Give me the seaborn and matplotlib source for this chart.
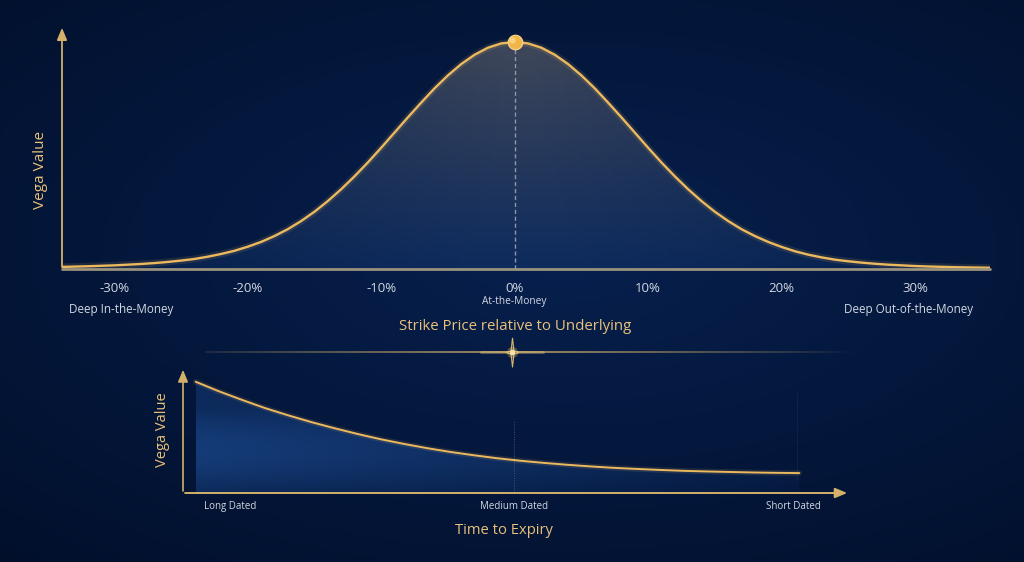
import numpy as np
import pandas as pd
import matplotlib
matplotlib.use("Agg")
import matplotlib.pyplot as plt
import seaborn as sns
from matplotlib.patches import PathPatch
from matplotlib.path import Path
from matplotlib.collections import LineCollection

# ===============================
# DATA
# ===============================
strike_pct = list(range(-35, 37))
strike_vega = [
    0.008, 0.009, 0.0105, 0.012, 0.014, 0.016, 0.019, 0.022, 0.026, 0.031,
    0.037, 0.044, 0.054, 0.066, 0.080, 0.098, 0.119, 0.145, 0.175, 0.211,
    0.252, 0.299, 0.351, 0.408, 0.469, 0.534, 0.601, 0.668, 0.733, 0.796,
    0.853, 0.903, 0.944, 0.975, 0.994, 1.000,
    0.994, 0.975, 0.944, 0.903, 0.853, 0.796, 0.733, 0.668, 0.601, 0.534,
    0.469, 0.408, 0.351, 0.299, 0.252, 0.211, 0.175, 0.145, 0.119, 0.097,
    0.078, 0.063, 0.051, 0.041, 0.034, 0.028, 0.023, 0.019, 0.016, 0.013,
    0.011, 0.0095, 0.008, 0.007, 0.006, 0.005,
]
strike_ticks = [-30, -20, -10, 0, 10, 20, 30]
strike_tick_labels = ["-30%", "-20%", "-10%", "0%", "10%", "20%", "30%"]
money_labels = ["Deep In-the-Money", "At-the-Money", "Deep Out-of-the-Money"]
money_pos = [-29.5, 0, 29.5]

expiry_x = [1.9, 5.4, 8.9, 12.3, 15.8, 19.3, 22.8, 26.3, 29.7, 33.2, 36.7,
            40.2, 43.7, 47.1, 50.6, 54.1, 57.6, 61.1, 64.5, 68.0, 71.5, 75.0,
            78.5, 81.9, 85.4, 88.9, 92.4]
expiry_vega = [0.883, 0.807, 0.738, 0.674, 0.616, 0.562, 0.513, 0.467, 0.426,
               0.389, 0.355, 0.325, 0.299, 0.276, 0.256, 0.239, 0.224, 0.211,
               0.200, 0.191, 0.183, 0.176, 0.171, 0.167, 0.163, 0.160, 0.158]
expiry_labels = ["Long Dated", "Medium Dated", "Short Dated"]
expiry_pos = [7.0, 49.6, 91.5]

# ===============================
# STYLE
# ===============================
sns.set_theme(style="dark")
plt.rcParams["font.family"] = ["Open Sans", "DejaVu Sans"]

GOLD = "#ecb95e"
GOLD_TXT = "#e9c27a"
GREY_TXT = "#d3d8e2"
BG = "#03163a"

fig = plt.figure(figsize=(10.24, 5.62), dpi=100, facecolor=BG)

# background glow
bg = fig.add_axes([0, 0, 1, 1], zorder=-5)
gx, gy = np.meshgrid(np.linspace(0, 1, 300), np.linspace(0, 1, 170))
r = np.sqrt(((gx - 0.55) / 0.9) ** 2 + ((gy - 0.55) / 0.8) ** 2)
c0 = np.array([7, 32, 78]) / 255
c1 = np.array([1, 14, 40]) / 255
t = np.clip(r, 0, 1)[..., None]
bg.imshow(c0 * (1 - t) + c1 * t, extent=[0, 1, 0, 1], aspect="auto", origin="lower")
bg.set_axis_off()


def gradient_fill(ax, x, y, rgba):
    poly = ax.fill_between(x, y, 0, color="none", lw=0)
    patch = PathPatch(poly.get_paths()[0], facecolor="none", edgecolor="none",
                      transform=ax.transData)
    ax.add_patch(patch)
    im = ax.imshow(rgba, extent=[min(x), max(x), 0, max(y)], aspect="auto",
                   origin="lower", zorder=1)
    im.set_clip_path(patch)


# ===============================
# TOP CHART: VEGA VS STRIKE
# ===============================
ax1 = fig.add_axes([62 / 1024, 1 - 269 / 562, 928 / 1024, 244 / 562])
ax1.set_facecolor("none")
XMIN, XMAX = -33.9, 35.6
ax1.set_xlim(XMIN, XMAX)
ax1.set_ylim(0, 1.075)

h, w = 200, 300
yy = np.linspace(0, 1, h)[:, None]
xx = np.linspace(-1, 1, w)[None, :]
top_c = np.array([64, 72, 90]) / 255
bot_c = np.array([14, 44, 95]) / 255
rgba = np.zeros((h, w, 4))
rgba[..., :3] = (bot_c * (1 - yy[..., None]) + top_c * yy[..., None])
rgba[..., 3] = 1 - 0.75 * np.abs(xx) ** 1.2 * np.ones_like(yy)
gradient_fill(ax1, strike_pct, strike_vega, rgba)

df_top = pd.DataFrame({"strike": strike_pct, "vega": strike_vega})
sns.lineplot(data=df_top, x="strike", y="vega", ax=ax1, color=GOLD, lw=5, alpha=0.12, zorder=3)
sns.lineplot(data=df_top, x="strike", y="vega", ax=ax1, color=GOLD, lw=1.7, zorder=4)

ax1.plot([0, 0], [0, max(strike_vega)], color="#8e96a8", lw=1, ls=(0, (3, 2)), zorder=3)
ax1.scatter([0], [max(strike_vega)], s=110, color="#f1b64a", edgecolor="#ffd88c",
            lw=0.8, zorder=6, clip_on=False)
ax1.scatter([-0.2], [max(strike_vega) + 0.008], s=20, color="#ffe2a0", alpha=0.6,
            lw=0, zorder=7, clip_on=False)

for s in ["top", "right", "left", "bottom"]:
    ax1.spines[s].set_visible(False)
ax1.plot([XMIN, XMAX], [0, 0], color="#9a927c", lw=2, zorder=5, clip_on=False)
ax1.annotate("", xy=(XMIN, 1.075), xytext=(XMIN, -0.003),
             arrowprops=dict(arrowstyle="-|>,head_length=0.6,head_width=0.25",
                             color="#d4b06a", lw=1.3), annotation_clip=False)

ax1.set_xticks(strike_ticks)
ax1.set_xticklabels(strike_tick_labels)
ax1.set_yticks([])
ax1.tick_params(axis="x", length=0, pad=9, labelsize=9.5, labelcolor=GREY_TXT)
ax1.set_xlabel("")
ax1.set_ylabel("")
ax1.grid(False)

xt = ax1.get_xaxis_transform()
for lab, pos in zip(money_labels, money_pos):
    ax1.text(pos, -0.135 if lab == "At-the-Money" else -0.168, lab,
             transform=xt, ha="center", va="center", color=GREY_TXT,
             fontsize=7.3 if lab == "At-the-Money" else 8.4)
ax1.text(0, -0.234, "Strike Price relative to Underlying", transform=xt,
         ha="center", va="center", color=GOLD_TXT, fontsize=10.8)
ax1.text(-0.0237, 0.406, "Vega Value", transform=ax1.transAxes, rotation=90,
         ha="center", va="center", color=GOLD_TXT, fontsize=11)

# ===============================
# DIVIDER WITH SPARKLE
# ===============================
dx = np.linspace(205, 860, 200) / 1024
dy = np.full_like(dx, 1 - 352 / 562)
seg = np.stack([np.column_stack([dx[:-1], dy[:-1]]), np.column_stack([dx[1:], dy[1:]])], axis=1)
mid = (dx[:-1] + dx[1:]) / 2
alpha = np.clip(1 - np.abs(mid - 512 / 1024) / 0.33, 0, 1) ** 0.8
cols = np.zeros((len(mid), 4))
cols[:, :3] = matplotlib.colors.to_rgb("#d9b46a")
cols[:, 3] = alpha * 0.85
bg.add_collection(LineCollection(seg, colors=cols, lw=1.2, transform=bg.transAxes))

star = Path([(0, 1), (0.1, 0.1), (0.45, 0), (0.1, -0.1), (0, -1),
             (-0.1, -0.1), (-0.45, 0), (-0.1, 0.1), (0, 1)])
sx, sy = 512 / 1024, 1 - 352 / 562
bg.plot([sx - 0.03, sx + 0.03], [sy, sy], color="#f5cf80", lw=2.2, alpha=0.35,
        solid_capstyle="round", transform=bg.transAxes)
bg.plot([sx], [sy], marker=star, ms=21, color="#26365a", mec="#d9b46a", mew=0.8,
        transform=bg.transAxes)
bg.plot([sx], [sy], "o", ms=8, color="#ffd070", alpha=0.3, mew=0, transform=bg.transAxes)
bg.plot([sx], [sy], "o", ms=4, color="#ffe8b0", alpha=0.95, mew=0, transform=bg.transAxes)
bg.set_xlim(0, 1)
bg.set_ylim(0, 1)

# ===============================
# BOTTOM CHART: VEGA VS TIME
# ===============================
ax2 = fig.add_axes([183 / 1024, 1 - 493 / 562, 667 / 1024, 126 / 562])
ax2.set_facecolor("none")
ax2.set_xlim(0, 100)
ax2.set_ylim(0, 1)

h2, w2 = 120, 300
yy2 = np.linspace(0, 1, h2)[:, None]
xx2 = np.linspace(0, 1, w2)[None, :]
rgba2 = np.zeros((h2, w2, 4))
rgba2[..., :3] = np.array([22, 62, 124]) / 255
rgba2[..., 3] = (0.95 - 0.75 * xx2) * (0.55 + 0.45 * np.sin(np.pi * np.clip(yy2 * 1.3, 0, 1)))
gradient_fill(ax2, expiry_x, expiry_vega, rgba2)

df_bot = pd.DataFrame({"t": expiry_x, "vega": expiry_vega})
sns.lineplot(data=df_bot, x="t", y="vega", ax=ax2, color=GOLD, lw=4, alpha=0.12, zorder=3)
sns.lineplot(data=df_bot, x="t", y="vega", ax=ax2, color=GOLD, lw=1.4, zorder=4)

ax2.plot([49.6, 49.6], [0, 0.58], color="#5c6c8c", lw=0.7, ls=(0, (1, 1.5)), alpha=0.7, zorder=2)
ax2.plot([92.0, 92.0], [0.1, 0.79], color="#5c6c8c", lw=0.6, ls=(0, (1, 1.5)), alpha=0.4, zorder=2)

for s in ["top", "right", "left", "bottom"]:
    ax2.spines[s].set_visible(False)
ax2.annotate("", xy=(0, 1.0), xytext=(0, -0.006),
             arrowprops=dict(arrowstyle="-|>,head_length=0.6,head_width=0.25",
                             color="#d4b06a", lw=1.2), annotation_clip=False)
ax2.annotate("", xy=(100, 0), xytext=(-0.1, 0),
             arrowprops=dict(arrowstyle="-|>,head_length=0.6,head_width=0.25",
                             color="#d4b06a", lw=1.4), annotation_clip=False)

ax2.set_xticks([])
ax2.set_yticks([])
ax2.set_xlabel("")
ax2.set_ylabel("")
ax2.grid(False)

xt2 = ax2.get_xaxis_transform()
for lab, pos in zip(expiry_labels, expiry_pos):
    ax2.text(pos, -0.111, lab, transform=xt2, ha="center", va="center",
             color=GREY_TXT, fontsize=7)
ax2.text(48.1, -0.294, "Time to Expiry", transform=xt2, ha="center", va="center",
         color=GOLD_TXT, fontsize=10.6)
ax2.text(-0.03, 0.5, "Vega Value", transform=ax2.transAxes, rotation=90,
         ha="center", va="center", color=GOLD_TXT, fontsize=10.5)

fig.savefig("out.png", dpi=100, facecolor=BG)
